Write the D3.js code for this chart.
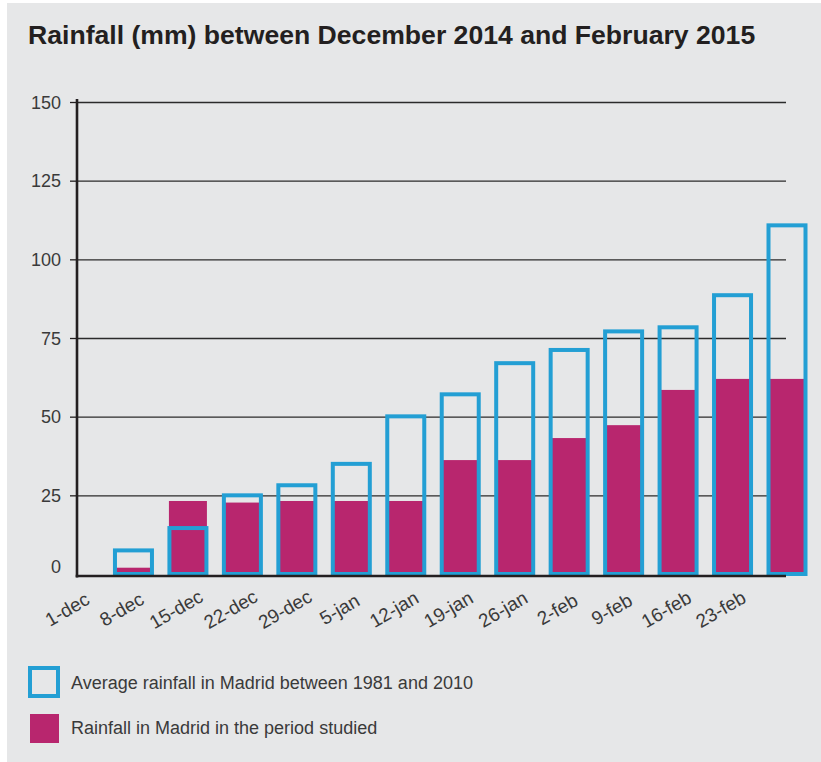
<!DOCTYPE html>
<html><head><meta charset="utf-8">
<script src="https://cdn.jsdelivr.net/npm/d3@7/dist/d3.min.js"></script>
<style>
body{margin:0;background:#fff}
svg{display:block}
text{font-family:"Liberation Sans",Arial,Helvetica,sans-serif}
</style>
</head><body>
<svg id="chart" width="821" height="762"></svg>
<script>
// ---- data ----
const weeks = ["1-dec","8-dec","15-dec","22-dec","29-dec","5-jan","12-jan","19-jan","26-jan","2-feb","9-feb","16-feb","23-feb",""];
const averageRain = [0,7.5,14.6,25,28.2,35,50.1,57.1,67,71.2,77.1,78.4,88.6,110.8];
const studiedRain = [0,2,23.2,22.7,23.2,23.2,23.2,36.2,36.2,43.2,47.3,58.5,62,62];
const yTicks = [0,25,50,75,100,125,150];
const legendLabels = ["Average rainfall in Madrid between 1981 and 2010","Rainfall in Madrid in the period studied"];
const titleText = "Rainfall (mm) between December 2014 and February 2015";

const BLUE = "#239fd4", CRIMSON = "#b8266e", BG = "#e6e7e8", INK = "#231f20", TXT = "#3a3a3a";

const svg = d3.select("#chart");
svg.append("rect").attr("x",7).attr("y",3).attr("width",814).attr("height",759).attr("fill",BG);

svg.append("text").attr("x",28).attr("y",44)
  .attr("font-size",26.6).attr("font-weight","bold").attr("fill",INK)
  .text(titleText);

const x = d3.scalePoint().domain(weeks).range([79,787]);
const y = d3.scaleLinear().domain([0,150]).range([574,102]);

// gridlines
const grid = svg.append("g").attr("transform","translate(77,0)")
  .call(d3.axisRight(y).tickValues(yTicks.filter(t=>t>0)).tickSize(709).tickFormat(""));
grid.select(".domain").remove();
grid.selectAll("line").attr("stroke","#2b2b2b").attr("stroke-width",1.3);

// bars
const rows = weeks.map((w,i)=>({w, avg:averageRain[i], act:studiedRain[i]}));
const barW = 38;
svg.append("g").selectAll("rect").data(rows.filter(d=>d.act>0)).join("rect")
  .attr("x",d=>x(d.w)-barW/2).attr("width",barW)
  .attr("y",d=>y(d.act)).attr("height",d=>y(0)-y(d.act))
  .attr("fill",CRIMSON);
svg.append("g").selectAll("rect").data(rows.filter(d=>d.avg>0)).join("rect")
  .attr("x",d=>x(d.w)-barW/2+0.5).attr("width",barW-1)
  .attr("y",d=>y(d.avg)).attr("height",d=>y(0)-y(d.avg))
  .attr("fill","none").attr("stroke",BLUE).attr("stroke-width",4);

// y axis
const ya = svg.append("g").attr("transform","translate(77,0)")
  .call(d3.axisLeft(y).tickValues(yTicks).tickSize(7).tickPadding(9));
ya.select(".domain").remove();
ya.selectAll(".tick line").attr("stroke",INK).attr("stroke-width",1.3)
  .filter(d=>d===0).remove();
ya.selectAll(".tick text").attr("font-size",18).attr("fill",TXT)
  .attr("font-family","Liberation Sans, Arial, sans-serif")
  .attr("dy",d=>d===0?"-0.1em":"0.35em");
svg.append("line").attr("x1",77).attr("x2",77).attr("y1",99).attr("y2",577.5)
  .attr("stroke",INK).attr("stroke-width",2.6);

// x axis
svg.append("line").attr("x1",75.7).attr("x2",786).attr("y1",576).attr("y2",576)
  .attr("stroke",INK).attr("stroke-width",2.6);
const xa = svg.append("g").attr("transform","translate(0,576)")
  .call(d3.axisBottom(x).tickValues(weeks.filter(w=>w!=="")).tickSize(0));
xa.select(".domain").remove();
xa.selectAll(".tick text")
  .attr("font-size",19).attr("fill",TXT)
  .attr("font-family","Liberation Sans, Arial, sans-serif")
  .attr("text-anchor","middle").attr("dy",null).attr("y",null)
  .attr("transform","translate(-9,39) rotate(-30)");

// legend
const lg = svg.append("g");
lg.append("rect").attr("x",30).attr("y",668).attr("width",28).attr("height",28)
  .attr("fill","none").attr("stroke",BLUE).attr("stroke-width",4);
lg.append("rect").attr("x",30).attr("y",714).attr("width",29).attr("height",29).attr("fill",CRIMSON);
lg.selectAll("text").data(legendLabels).join("text")
  .attr("x",71).attr("y",(d,i)=>689+i*45)
  .attr("font-size",18).attr("fill",TXT).text(d=>d);
</script>
</body></html>
